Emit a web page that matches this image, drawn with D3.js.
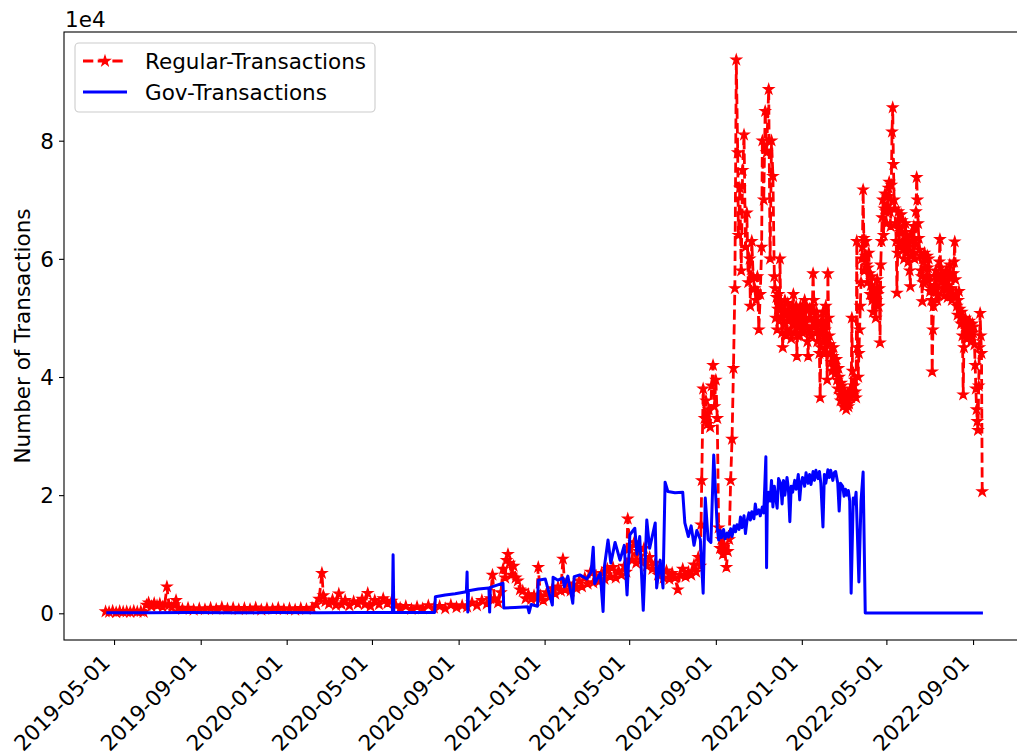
<!DOCTYPE html>
<html>
<head>
<meta charset="utf-8">
<script src="https://cdn.jsdelivr.net/npm/d3@7"></script>
<style>
body{margin:0;background:#fff;}
text{font-family:"DejaVu Sans",sans-serif;fill:#000;}
</style>
</head>
<body>
<svg id="chart" width="1017" height="756"></svg>
<script>
// Regular transactions (red dashed, star markers)
var regDates = [
  "2019-04-19","2019-04-24","2019-04-29","2019-05-04","2019-05-09","2019-05-14","2019-05-19","2019-05-24","2019-05-29","2019-06-03","2019-06-08","2019-06-12",
  "2019-06-16","2019-06-19","2019-06-23","2019-06-27","2019-07-01","2019-07-05","2019-07-09","2019-07-12","2019-07-15","2019-07-18","2019-07-22","2019-07-26","2019-07-28","2019-07-31",
  "2019-08-06","2019-08-14","2019-08-22","2019-08-30","2019-09-07","2019-09-15","2019-09-23","2019-10-01","2019-10-09","2019-10-17","2019-10-25","2019-11-02","2019-11-10","2019-11-18","2019-11-26",
  "2019-12-04","2019-12-12","2019-12-20","2019-12-28","2020-01-05","2020-01-13","2020-01-21","2020-01-29","2020-02-06",
  "2020-02-12","2020-02-16","2020-02-20","2020-02-22","2020-02-25","2020-03-01","2020-03-06","2020-03-11","2020-03-15","2020-03-19","2020-03-24","2020-03-30",
  "2020-04-05","2020-04-11","2020-04-17","2020-04-21","2020-04-25","2020-04-29","2020-05-05","2020-05-11","2020-05-17","2020-05-23","2020-05-29","2020-06-04",
  "2020-06-10","2020-06-18","2020-06-26","2020-07-04","2020-07-12","2020-07-20","2020-07-28","2020-08-05","2020-08-13","2020-08-21","2020-08-29","2020-09-06","2020-09-13",
  "2020-09-20","2020-09-27","2020-10-04","2020-10-11","2020-10-16","2020-10-19","2020-10-22","2020-10-27",
  "2020-10-31","2020-11-03","2020-11-06","2020-11-08","2020-11-10","2020-11-12","2020-11-15","2020-11-18","2020-11-21","2020-11-24","2020-11-27",
  "2020-12-01","2020-12-05","2020-12-09","2020-12-13","2020-12-17","2020-12-21","2020-12-23","2020-12-26","2020-12-30",
  "2021-01-04","2021-01-08","2021-01-12","2021-01-16","2021-01-20","2021-01-24","2021-01-27","2021-01-30","2021-02-03","2021-02-07","2021-02-11","2021-02-15","2021-02-19","2021-02-23","2021-02-27",
  "2021-03-03","2021-03-07","2021-03-11","2021-03-15","2021-03-19","2021-03-23","2021-03-27","2021-03-31","2021-04-04","2021-04-08","2021-04-12","2021-04-16","2021-04-20","2021-04-24","2021-04-27",
  "2021-04-29","2021-05-02","2021-05-05","2021-05-08","2021-05-11","2021-05-14","2021-05-18","2021-05-22","2021-05-26","2021-05-30","2021-06-03","2021-06-07","2021-06-11","2021-06-15","2021-06-19",
  "2021-06-23","2021-06-27","2021-07-01","2021-07-05","2021-07-09","2021-07-12","2021-07-16","2021-07-20","2021-07-24","2021-07-28","2021-08-01","2021-08-04","2021-08-07","2021-08-10",
  "2021-08-11","2021-08-12","2021-08-14","2021-08-16","2021-08-18","2021-08-20","2021-08-22","2021-08-24","2021-08-26","2021-08-28","2021-08-30","2021-09-01","2021-09-03",
  "2021-09-05","2021-09-07","2021-09-09","2021-09-11","2021-09-13","2021-09-16","2021-09-18","2021-09-20","2021-09-22","2021-09-24","2021-09-26","2021-09-28","2021-09-30",
  "2021-10-02","2021-10-03","2021-10-05","2021-10-07","2021-10-09","2021-10-11","2021-10-13","2021-10-15","2021-10-17","2021-10-19","2021-10-20","2021-10-22","2021-10-24","2021-10-26","2021-10-28","2021-10-30","2021-11-01",
  "2021-11-03","2021-11-05","2021-11-06","2021-11-08","2021-11-10","2021-11-12","2021-11-15","2021-11-17","2021-11-19","2021-11-21","2021-11-23",
  "2021-11-24","2021-11-25","2021-11-26","2021-11-27","2021-11-28","2021-11-29","2021-11-30",
  "2021-12-01","2021-12-02","2021-12-03","2021-12-04","2021-12-05","2021-12-06","2021-12-07","2021-12-08","2021-12-09","2021-12-10","2021-12-11","2021-12-12","2021-12-13","2021-12-14","2021-12-15","2021-12-16",
  "2021-12-17","2021-12-18","2021-12-19","2021-12-20","2021-12-21","2021-12-22","2021-12-23","2021-12-24","2021-12-25","2021-12-26","2021-12-27","2021-12-28","2021-12-29","2021-12-30","2021-12-31",
  "2022-01-01","2022-01-02","2022-01-03","2022-01-04","2022-01-05","2022-01-06","2022-01-07","2022-01-08","2022-01-09","2022-01-10","2022-01-11","2022-01-12","2022-01-13","2022-01-14","2022-01-15","2022-01-16",
  "2022-01-17","2022-01-18","2022-01-19","2022-01-20","2022-01-21","2022-01-22","2022-01-23","2022-01-24","2022-01-25","2022-01-26","2022-01-27","2022-01-28","2022-01-29","2022-01-30","2022-01-31",
  "2022-02-01","2022-02-02","2022-02-03","2022-02-04","2022-02-05","2022-02-06","2022-02-07","2022-02-08","2022-02-09",
  "2022-02-10","2022-02-11","2022-02-12","2022-02-13","2022-02-14","2022-02-15","2022-02-16","2022-02-17","2022-02-18","2022-02-19","2022-02-20","2022-02-21","2022-02-22","2022-02-23","2022-02-24","2022-02-25","2022-02-26","2022-02-27","2022-02-28",
  "2022-03-01","2022-03-02","2022-03-03","2022-03-04","2022-03-05","2022-03-06","2022-03-07","2022-03-08","2022-03-09","2022-03-10","2022-03-11","2022-03-12","2022-03-13","2022-03-14","2022-03-15","2022-03-16",
  "2022-03-17","2022-03-18","2022-03-19","2022-03-20","2022-03-21","2022-03-22","2022-03-23",
  "2022-03-24","2022-03-25","2022-03-26","2022-03-27","2022-03-28","2022-03-29","2022-03-30","2022-03-31",
  "2022-04-01","2022-04-02","2022-04-03","2022-04-04","2022-04-05","2022-04-06","2022-04-07","2022-04-08","2022-04-09","2022-04-10","2022-04-11","2022-04-12","2022-04-13","2022-04-14","2022-04-15",
  "2022-04-16","2022-04-17","2022-04-18","2022-04-19","2022-04-20","2022-04-21","2022-04-22","2022-04-23","2022-04-24","2022-04-25","2022-04-26","2022-04-27","2022-04-28","2022-04-29","2022-04-30",
  "2022-05-01","2022-05-02","2022-05-03","2022-05-04","2022-05-05","2022-05-06","2022-05-07","2022-05-08","2022-05-09","2022-05-10","2022-05-11","2022-05-12",
  "2022-05-13","2022-05-14","2022-05-15","2022-05-16","2022-05-17","2022-05-18","2022-05-19","2022-05-20","2022-05-21","2022-05-22","2022-05-23","2022-05-24","2022-05-25","2022-05-26","2022-05-27","2022-05-28","2022-05-29","2022-05-30","2022-05-31",
  "2022-06-01","2022-06-02","2022-06-03","2022-06-04","2022-06-05","2022-06-06","2022-06-07","2022-06-08","2022-06-09","2022-06-10","2022-06-11","2022-06-12","2022-06-13","2022-06-14","2022-06-15",
  "2022-06-16","2022-06-17","2022-06-18","2022-06-19","2022-06-20","2022-06-21","2022-06-22","2022-06-23","2022-06-24","2022-06-25","2022-06-26","2022-06-27","2022-06-28","2022-06-29","2022-06-30",
  "2022-07-01","2022-07-02","2022-07-03","2022-07-04","2022-07-05","2022-07-06","2022-07-07","2022-07-08",
  "2022-07-09","2022-07-10","2022-07-11","2022-07-12","2022-07-13","2022-07-14","2022-07-15","2022-07-16","2022-07-17","2022-07-18","2022-07-19","2022-07-20",
  "2022-07-21","2022-07-22","2022-07-23","2022-07-24","2022-07-25","2022-07-26","2022-07-27","2022-07-28","2022-07-29","2022-07-30","2022-07-31",
  "2022-08-01","2022-08-02","2022-08-03","2022-08-04","2022-08-05","2022-08-06","2022-08-07","2022-08-08","2022-08-09","2022-08-10","2022-08-11","2022-08-12","2022-08-13","2022-08-14","2022-08-15","2022-08-16",
  "2022-08-17","2022-08-18","2022-08-19","2022-08-20","2022-08-21","2022-08-22","2022-08-23","2022-08-24","2022-08-25","2022-08-26","2022-08-27","2022-08-28","2022-08-29","2022-08-30","2022-08-31",
  "2022-09-01","2022-09-02","2022-09-03","2022-09-04","2022-09-05","2022-09-06","2022-09-07","2022-09-08","2022-09-09","2022-09-10","2022-09-11","2022-09-12","2022-09-13","2022-09-14"
];
var regValues = [
  300,200,400,150,350,250,300,200,400,250,350,200,
  1400,1800,1200,1700,1300,1600,1100,1500,4500,1400,1000,1500,2200,900,
  700,900,600,800,650,900,700,1000,750,900,650,850,700,950,600,
  800,700,900,650,800,600,850,700,900,
  1500,2400,6800,3000,2000,1600,2300,1400,3300,1500,2200,1300,
  2000,1600,2400,1500,3400,1200,2200,1500,2500,1700,2100,1300,
  900,1200,700,1100,800,1300,900,1200,800,1400,1000,1300,1100,
  1800,1300,2200,1600,2500,6500,2400,1800,
  3500,7500,6000,9000,10000,8500,6500,8000,6000,5500,4000,
  3800,2500,3200,2400,3000,2600,7800,3000,2200,
  3500,2800,4200,3300,4500,3800,9200,4000,5000,3800,4800,4200,5500,4500,6000,
  5000,7000,5200,6300,5400,6800,5800,7500,6200,7800,6000,7200,6500,8000,7000,
  16000,11000,9000,12000,8500,10500,9000,11000,8000,9500,7500,8500,6500,7000,6000,
  7200,5800,6800,6000,4000,6500,7500,6200,7000,6500,8200,7000,9500,8000,
  15000,22500,38000,33000,36000,32000,34500,31500,38500,42000,35000,39500,33000,
  14500,11000,12500,10000,11500,7800,10500,12500,22500,29500,41500,55000,93700,
  78000,64000,72000,58000,75000,81000,62000,67800,56000,60000,52000,63000,57000,55000,53000,57000,48000,
  54000,62000,80000,70000,85000,78000,88700,60000,80000,74000,57000,
  55000,50000,53500,48000,51500,54000,49500,
  60000,52000,50000,47500,45000,51000,49000,53000,50500,47000,48000,52500,49500,51000,47500,50000,
  46500,52000,49000,54000,50000,47500,49000,52000,43500,47000,50500,48500,47000,52000,49000,
  51000,47500,49500,48000,53000,50000,52000,48500,46000,43500,48000,51500,50000,47000,47000,52000,
  57500,53000,48500,50000,47500,51000,46000,48000,49000,44000,36500,45000,49500,47000,51000,
  46000,44000,48000,52000,45500,39500,57500,50000,47000,
  45500,44000,42500,41000,43500,45000,42000,40500,41500,43000,39500,38000,41500,40000,37000,36000,39000,38500,36500,
  35000,36000,37500,35500,34500,36000,37000,35000,35500,37500,38000,36500,50000,41000,37000,38500,
  39500,37500,36500,63000,45000,40000,44000,
  48000,52000,56000,60000,62000,71700,63500,58000,
  60500,63000,59000,56000,58500,61000,57500,54000,55500,57000,53000,51000,53500,55000,52500,
  50000,53000,56500,54000,52000,55000,45800,59000,63000,67000,70000,64000,68500,71000,68000,
  66000,70500,69000,72000,73000,68000,65500,72500,81500,85600,76000,70000,
  68500,66000,63000,54200,61000,68000,65000,62000,64500,67500,66500,63000,61500,60000,62500,66000,64000,61000,63500,
  59500,62000,58000,55300,60500,64500,63000,61000,65500,60000,62500,68000,73800,70000,66000,
  63500,61500,60500,58000,57000,52800,56000,59500,61000,58500,56000,57000,60500,58500,60000,
  57000,54500,55000,53000,40900,48000,52000,55500,
  57000,58000,55500,53000,54000,57000,59500,63300,58500,56000,57000,55000,
  56500,53700,55000,57500,58000,55500,53500,55000,57000,59000,57500,
  55000,53000,54000,57500,59500,62900,56500,54000,52000,50500,53000,54500,51500,50000,49000,51000,
  47000,37000,45000,48500,50000,48000,46500,46500,49000,48000,49500,47500,46000,47000,49000,
  47500,48500,45500,42000,38000,34500,32500,31000,38500,45000,50800,47000,44000,20600
];

// Gov transactions (blue solid)
var govDates = [
  "2019-04-20","2019-06-15","2019-08-15","2019-10-15","2019-12-15","2020-02-15","2020-04-15","2020-05-30","2020-05-31","2020-06-01","2020-07-01","2020-07-29",
  "2020-07-30","2020-08-13","2020-08-27","2020-09-10","2020-09-12","2020-09-13","2020-09-14","2020-09-15","2020-09-29","2020-10-14","2020-10-15","2020-10-16",
  "2020-11-03","2020-11-04","2020-11-20","2020-12-08","2020-12-10","2020-12-13","2020-12-22","2020-12-23","2021-01-02","2021-01-12","2021-01-13","2021-01-20",
  "2021-01-27","2021-01-29","2021-02-03","2021-02-10","2021-02-12","2021-02-20","2021-03-02","2021-03-08","2021-03-11","2021-03-13","2021-03-21","2021-03-25",
  "2021-03-27","2021-04-01","2021-04-05","2021-04-11","2021-04-18","2021-04-24","2021-04-28","2021-05-02","2021-05-09","2021-05-12","2021-05-16","2021-05-21",
  "2021-05-26","2021-05-30","2021-06-07","2021-06-09","2021-06-14","2021-06-18","2021-06-21","2021-06-25","2021-07-05","2021-07-16","2021-07-19","2021-07-24",
  "2021-07-28","2021-08-01","2021-08-05","2021-08-10","2021-08-14","2021-08-17","2021-08-21","2021-08-25","2021-08-29",
  "2021-09-03","2021-09-05","2021-09-07","2021-09-09","2021-09-12","2021-09-14","2021-09-17","2021-09-19","2021-09-22","2021-09-24","2021-09-27","2021-09-29",
  "2021-10-01","2021-10-04","2021-10-06","2021-10-08","2021-10-11","2021-10-13","2021-10-15","2021-10-18","2021-10-20","2021-10-22","2021-10-25","2021-10-27","2021-10-29",
  "2021-11-01","2021-11-03","2021-11-06","2021-11-08","2021-11-11","2021-11-12","2021-11-13","2021-11-15","2021-11-17","2021-11-19","2021-11-21","2021-11-23","2021-11-25","2021-11-27","2021-11-29",
  "2021-12-02","2021-12-04","2021-12-06","2021-12-08","2021-12-11","2021-12-13","2021-12-15","2021-12-17","2021-12-19","2021-12-22","2021-12-24","2021-12-27","2021-12-29","2021-12-31",
  "2022-01-02","2022-01-05","2022-01-07","2022-01-10","2022-01-12","2022-01-14","2022-01-17","2022-01-19","2022-01-21","2022-01-24","2022-01-26","2022-01-28","2022-01-31",
  "2022-02-02","2022-02-04","2022-02-07","2022-02-09","2022-02-11","2022-02-14","2022-02-16","2022-02-18","2022-02-21","2022-02-23","2022-02-25","2022-02-28",
  "2022-03-02","2022-03-04","2022-03-06","2022-03-08","2022-03-10","2022-03-12","2022-03-15","2022-03-17","2022-03-19","2022-03-23","2022-03-26","2022-03-29",
  "2022-04-01","2022-06-01","2022-09-15"
];
var govValues = [
  100,100,120,100,120,100,120,150,9900,150,130,150,
  2800,3100,3300,3600,3700,7000,200,3800,4100,4300,200,4400,
  5100,900,1000,1100,100,1500,1200,5600,5800,1400,6100,5600,
  6000,4500,6300,1700,6200,6500,5800,7000,11200,5000,6800,300,
  8000,12400,8500,12000,9000,11500,3100,13300,14400,10000,13000,500,
  15800,11000,15300,4300,9000,4300,22200,20600,20400,20500,15300,13000,
  14800,11500,14000,12500,3400,19500,12500,12000,26800,
  14500,12400,14000,12800,14200,12600,13600,12900,14300,13000,14800,13800,
  15000,14200,16300,14500,16500,13500,15500,17000,15800,17200,16000,18500,16800,
  17500,16500,18000,17000,26500,7700,18500,20500,19000,22500,18000,21500,19500,17800,22800,
  22000,18500,22500,20000,23000,21000,15500,21500,20500,22500,21000,23500,19200,22000,
  23000,21500,23800,22000,23500,21800,24000,22500,24200,22800,24000,22000,14600,
  23500,22000,24300,23000,24200,22500,23800,24000,22000,17300,22000,21500,
  19800,21000,20000,20800,19000,3400,19500,18500,20500,5300,19000,23900,
  50,50,50
];

var seriesNames = ["Regular-Transactions", "Gov-Transactions"];
var xTickLabels = ["2019-05-01","2019-09-01","2020-01-01","2020-05-01","2020-09-01","2021-01-01",
                   "2021-05-01","2021-09-01","2022-01-01","2022-05-01","2022-09-01"];
var yTickValues = [0, 20000, 40000, 60000, 80000];

var parse = d3.utcParse("%Y-%m-%d");
var plotLeft = 64, plotRight = 1024.5, plotTop = 32, plotBottom = 640;
var fontSize = 21.5;

var svg = d3.select("#chart");

var x = d3.scaleUtc()
    .domain([parse("2019-02-19"), parse("2022-11-13")])
    .range([plotLeft, plotRight]);
var y = d3.scaleLinear()
    .domain([-4520, 98400])
    .range([plotBottom, plotTop]);

var regData = regDates.map(function(d, i){ return {date: parse(d), value: regValues[i]}; });
var govData = govDates.map(function(d, i){ return {date: parse(d), value: govValues[i]}; });

var line = d3.line()
    .x(function(d){ return x(d.date); })
    .y(function(d){ return y(d.value); });

// red series first, blue drawn over it
svg.append("path")
    .datum(regData)
    .attr("d", line)
    .attr("fill", "none")
    .attr("stroke", "#ff0000")
    .attr("stroke-width", 2.8)
    .attr("stroke-dasharray", "10.3,4.4")
    .attr("stroke-linejoin", "round");

var star = d3.symbol().type(d3.symbolStar).size(30);
svg.append("g").selectAll("path")
    .data(regData)
    .enter()
    .append("path")
    .attr("d", star)
    .attr("transform", function(d){ return "translate(" + x(d.date) + "," + y(d.value) + ")"; })
    .attr("fill", "#ff0000")
    .attr("stroke", "#ff0000")
    .attr("stroke-width", 1.3);

svg.append("path")
    .datum(govData)
    .attr("d", line)
    .attr("fill", "none")
    .attr("stroke", "#0000ff")
    .attr("stroke-width", 3)
    .attr("stroke-linejoin", "round");

// axes
var xAxis = d3.axisBottom(x)
    .tickValues(xTickLabels.map(parse))
    .tickFormat(d3.utcFormat("%Y-%m-%d"))
    .tickSize(5)
    .tickSizeOuter(0);
var gx = svg.append("g")
    .attr("transform", "translate(0," + plotBottom + ")")
    .call(xAxis);
gx.select(".domain").remove();
gx.selectAll("line").attr("stroke", "#000").attr("stroke-width", 1.1);
gx.selectAll("text")
    .attr("font-size", fontSize)
    .attr("text-anchor", "end")
    .attr("x", 0).attr("y", 0).attr("dy", 0)
    .attr("transform", "translate(-3,24) rotate(-45)");

var yAxis = d3.axisLeft(y)
    .tickValues(yTickValues)
    .tickFormat(function(v){ return v / 10000; })
    .tickSize(5)
    .tickSizeOuter(0);
var gy = svg.append("g")
    .attr("transform", "translate(" + plotLeft + ",0)")
    .call(yAxis);
gy.select(".domain").remove();
gy.selectAll("line").attr("stroke", "#000").attr("stroke-width", 1.1);
gy.selectAll("text")
    .attr("font-size", fontSize)
    .attr("x", -10)
    .attr("dy", "0.35em");

// frame
svg.append("rect")
    .attr("x", plotLeft).attr("y", plotTop)
    .attr("width", plotRight - plotLeft).attr("height", plotBottom - plotTop)
    .attr("fill", "none")
    .attr("stroke", "#000")
    .attr("stroke-width", 1.1);

svg.append("text")
    .attr("x", 65).attr("y", 27)
    .attr("font-size", fontSize)
    .text("1e4");

svg.append("text")
    .attr("transform", "translate(30," + ((plotTop + plotBottom) / 2) + ") rotate(-90)")
    .attr("text-anchor", "middle")
    .attr("font-size", fontSize)
    .text("Number of Transactions");

// legend
var legend = svg.append("g");
legend.append("rect")
    .attr("x", 75).attr("y", 43)
    .attr("width", 300).attr("height", 69)
    .attr("rx", 4)
    .attr("fill", "#fff").attr("fill-opacity", 0.8)
    .attr("stroke", "#cccccc").attr("stroke-width", 1.1);
legend.append("line")
    .attr("x1", 83).attr("x2", 127).attr("y1", 61).attr("y2", 61)
    .attr("stroke", "#ff0000").attr("stroke-width", 2.8)
    .attr("stroke-dasharray", "10.3,4.4");
legend.append("path")
    .attr("d", star)
    .attr("transform", "translate(105,61)")
    .attr("fill", "#ff0000").attr("stroke", "#ff0000").attr("stroke-width", 1.3);
legend.append("line")
    .attr("x1", 83).attr("x2", 127).attr("y1", 92).attr("y2", 92)
    .attr("stroke", "#0000ff").attr("stroke-width", 3);
legend.selectAll("text.lab")
    .data(seriesNames)
    .enter()
    .append("text")
    .attr("class", "lab")
    .attr("x", 145)
    .attr("y", function(d, i){ return 61 + i * 31; })
    .attr("dy", "0.35em")
    .attr("font-size", fontSize)
    .text(function(d){ return d; });
</script>
</body>
</html>
